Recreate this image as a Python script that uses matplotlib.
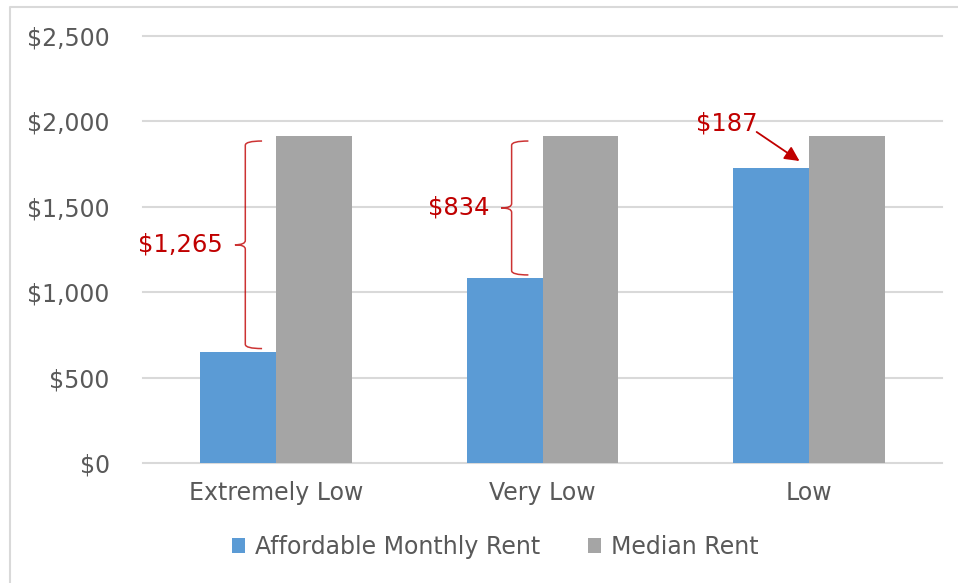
import matplotlib
matplotlib.use("Agg")
import matplotlib.pyplot as plt
import numpy as np
from matplotlib.path import Path
from matplotlib.patches import PathPatch
from matplotlib.lines import Line2D
from matplotlib.ticker import FuncFormatter

categories = ["Extremely Low", "Very Low", "Low"]
affordable = [650, 1081, 1728]
median_rent = [1915, 1915, 1915]
series_names = ["Affordable Monthly Rent", "Median Rent"]

BLUE = "#5B9BD5"
GRAY = "#A5A5A5"
RED = "#C00000"
TXT = "#595959"
GRID = "#D9D9D9"
FS = 17.5

fig = plt.figure(figsize=(9.58, 5.83), dpi=100)
ax = fig.add_axes([0.1493, 0.2058, 0.834, 0.7325])

x = np.arange(len(categories))
w = 0.285
ax.bar(x - w / 2, affordable, w, color=BLUE, label=series_names[0], zorder=3)
ax.bar(x + w / 2, median_rent, w, color=GRAY, label=series_names[1], zorder=3)

ax.set_xlim(-0.5, len(categories) - 0.5)
ax.set_ylim(0, 2500)
ax.set_yticks(np.arange(0, 2501, 500))
ax.yaxis.set_major_formatter(FuncFormatter(lambda v, p: f"${v:,.0f}"))
ax.set_xticks(x)
ax.set_xticklabels(categories)
ax.grid(axis="y", color=GRID, lw=1.5, zorder=0)
for gl in ax.get_ygridlines():
    gl.set_clip_on(False)
for s in ax.spines.values():
    s.set_visible(False)
ax.tick_params(length=0, labelsize=17, labelcolor=TXT)
ax.tick_params(axis="y", pad=24)
ax.tick_params(axis="x", pad=13)


def brace(ax, xc, y0, y1, label):
    # curly brace opening to the right, tip pointing left
    xb = xc - 0.116
    xe = xc - 0.053
    xt = xc - 0.165
    ym = (y0 + y1) / 2
    r = 25
    verts = [
        (xe, y1), (xb, y1), (xb, y1 - r),
        (xb, ym + r),
        (xb, ym), (xt + 0.01, ym),
        (xb, ym), (xb, ym - r),
        (xb, y0 + r),
        (xb, y0), (xe, y0),
    ]
    codes = [Path.MOVETO, Path.CURVE3, Path.CURVE3,
             Path.LINETO,
             Path.CURVE3, Path.CURVE3,
             Path.CURVE3, Path.CURVE3,
             Path.LINETO,
             Path.CURVE3, Path.CURVE3]
    ax.add_patch(PathPatch(Path(verts, codes), fill=False, ec=RED,
                           lw=1.1, alpha=0.8, zorder=4))
    ax.text(xt - 0.035, ym, label, color=RED, fontsize=FS,
            ha="right", va="center", zorder=5)


gaps = [m - a for m, a in zip(median_rent, affordable)]
for i in range(2):
    brace(ax, x[i], affordable[i] + 20, median_rent[i] - 30, f"${gaps[i]:,}")

# last category: label with arrow
i = 2
ax.text(x[i] - 0.309, 1990, f"${gaps[i]:,}", color=RED, fontsize=FS,
        ha="center", va="center", zorder=5)
ax.annotate("", xy=(x[i] - 0.035, affordable[i] + 40),
            xytext=(x[i] - 0.196, 1938),
            arrowprops=dict(arrowstyle="-|>", color=RED, lw=1.3,
                            mutation_scale=22, shrinkA=0, shrinkB=0),
            zorder=5)

leg = fig.legend(loc="center", bbox_to_anchor=(0.517, 0.062), ncol=2,
                 frameon=False, fontsize=17, handlelength=0.55,
                 handleheight=0.55, handletextpad=0.45, columnspacing=2.0)
for t in leg.get_texts():
    t.set_color(TXT)

# chart-area border (only left and top edges visible in the crop)
fig.add_artist(Line2D([10 / 958, 10 / 958, 1.0], [0.0, 1 - 7 / 583, 1 - 7 / 583],
                      transform=fig.transFigure, color=GRID, lw=1.5))

fig.savefig("out.png", dpi=100)
